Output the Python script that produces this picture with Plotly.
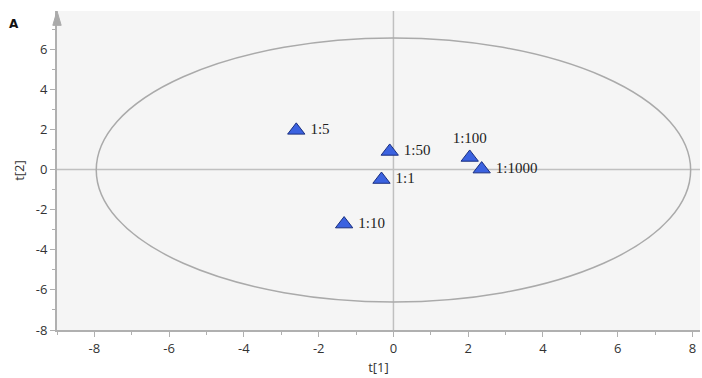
import plotly.graph_objects as go

# Data
labels = ["1:5", "1:50", "1:1", "1:10", "1:100", "1:1000"]
t1 = [-2.6, -0.1, -0.32, -1.32, 2.04, 2.36]
t2 = [1.95, 0.9, -0.5, -2.72, 0.6, 0.02]
label_pos = ["middle right", "middle right", "middle right", "middle right", "top center", "middle right"]
ellipse_x = [-7.95, 7.95]
ellipse_y = [-6.6, 6.55]
x_ticks = [-8, -6, -4, -2, 0, 2, 4, 6, 8]
y_ticks = [-8, -6, -4, -2, 0, 2, 4, 6]

display_text = [(" " + l) if p == "middle right" else l for l, p in zip(labels, label_pos)]

fig = go.Figure()
fig.add_trace(go.Scatter(
    x=t1, y=t2, mode="markers+text", text=display_text, textposition=label_pos,
    textfont=dict(family="Liberation Serif", size=15, color="#222"),
    marker=dict(symbol="triangle-up", size=15, color="#3b62e0",
                line=dict(color="#1a2f80", width=1)),
    cliponaxis=False, showlegend=False,
))

fig.add_shape(type="circle", xref="x", yref="y",
              x0=ellipse_x[0], x1=ellipse_x[1], y0=ellipse_y[0], y1=ellipse_y[1],
              line=dict(color="#aaaaaa", width=1.5), layer="below")
# Zero lines
fig.add_shape(type="line", xref="x", yref="paper", x0=0, x1=0, y0=0, y1=1,
              line=dict(color="#c0c0c0", width=1.5), layer="below")
fig.add_shape(type="line", xref="paper", yref="y", x0=0, x1=1, y0=0, y1=0,
              line=dict(color="#c0c0c0", width=1.5), layer="below")
# Arrow at top of y axis
fig.add_shape(type="path", xref="paper", yref="paper",
              path="M -0.0065 0.955 L 0 1.0 L 0.0065 0.955 Z",
              fillcolor="#aaaaaa", line=dict(color="#aaaaaa", width=1))

fig.add_annotation(text="<b>A</b>", xref="paper", yref="paper", x=-0.067, y=0.96,
                   showarrow=False, font=dict(family="DejaVu Sans", size=12, color="#111"),
                   xanchor="center", yanchor="middle")

axis_common = dict(
    showgrid=False, zeroline=False, showline=True, linecolor="#b0b0b0", linewidth=2,
    ticks="outside", ticklen=5, tickcolor="#b0b0b0", tickwidth=1, automargin=False,
    tickfont=dict(family="Open Sans", size=13, color="#333"),
    minor=dict(ticks="outside", ticklen=3, tickcolor="#b0b0b0", dtick=1),
)

fig.update_xaxes(range=[-9, 8.2], tickvals=x_ticks, ticktext=[str(v) for v in x_ticks],
                 title=dict(text="t[1]", standoff=7,
                 font=dict(family="Open Sans", size=13, color="#333")), **axis_common)
fig.update_yaxes(range=[-8, 7.9], tickvals=y_ticks, ticktext=[str(v) for v in y_ticks],
                 title=dict(text="t[2]", standoff=8,
                 font=dict(family="Open Sans", size=13, color="#333")), **axis_common)

fig.update_layout(
    width=702, height=378,
    margin=dict(l=57, r=2, t=11, b=48),
    plot_bgcolor="#f5f5f5", paper_bgcolor="white",
)

fig.write_html("out.html", config={"displayModeBar": False},
               post_script="document.body.style.margin='0';")
